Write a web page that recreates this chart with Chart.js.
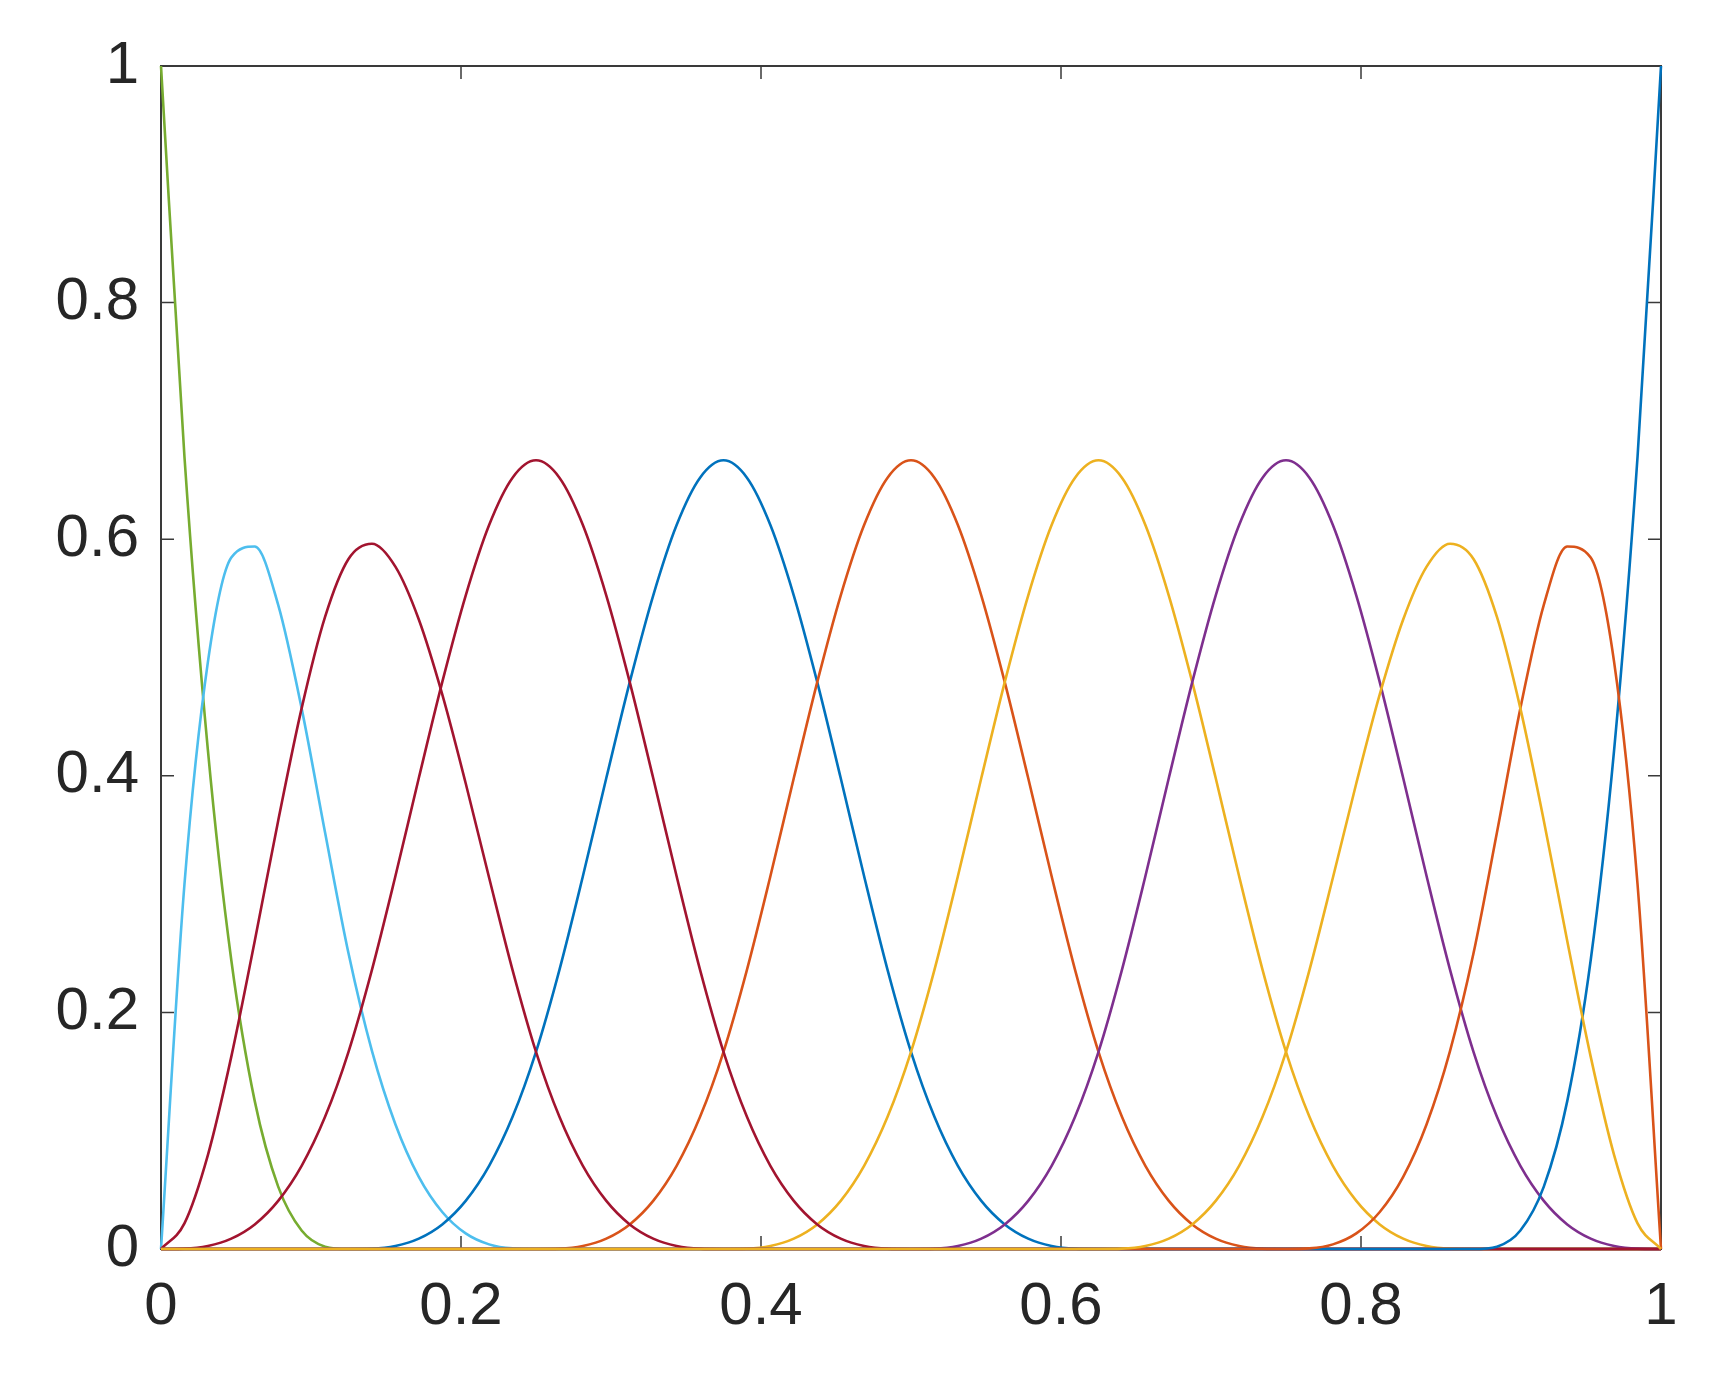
<!DOCTYPE html>
<html lang="en">
<head>
    <meta charset="UTF-8">
    <title>B-spline basis</title>
    <script src="https://cdn.jsdelivr.net/npm/chart.js"></script>
    <style>
        body { margin: 0; background: #fff; }
        #wrap { width: 1720px; height: 1375px; }
    </style>
</head>
<body>
    <div id="wrap"><canvas id="chart"></canvas></div>
    <script>
        // sample positions (x) shared by every curve
        const xValues = [
            0, 0.015625, 0.03125, 0.046875, 0.0625, 0.078125, 0.09375, 0.109375,
            0.125, 0.140625, 0.15625, 0.171875, 0.1875, 0.203125, 0.21875, 0.234375,
            0.25, 0.265625, 0.28125, 0.296875, 0.3125, 0.328125, 0.34375, 0.359375,
            0.375, 0.390625, 0.40625, 0.421875, 0.4375, 0.453125, 0.46875, 0.484375,
            0.5, 0.515625, 0.53125, 0.546875, 0.5625, 0.578125, 0.59375, 0.609375,
            0.625, 0.640625, 0.65625, 0.671875, 0.6875, 0.703125, 0.71875, 0.734375,
            0.75, 0.765625, 0.78125, 0.796875, 0.8125, 0.828125, 0.84375, 0.859375,
            0.875, 0.890625, 0.90625, 0.921875, 0.9375, 0.953125, 0.96875, 0.984375,
            1];

        const tickValues = [0, 0.2, 0.4, 0.6, 0.8, 1];
        const tickLabels = ['0', '0.2', '0.4', '0.6', '0.8', '1'];

        // basis curves
        const n0 = [
            1, 0.6699, 0.4219, 0.2441, 0.125, 0.0527, 0.0156, 0.0020,
            0, 0, 0, 0, 0, 0, 0, 0,
            0, 0, 0, 0, 0, 0, 0, 0,
            0, 0, 0, 0, 0, 0, 0, 0,
            0, 0, 0, 0, 0, 0, 0, 0,
            0, 0, 0, 0, 0, 0, 0, 0,
            0, 0, 0, 0, 0, 0, 0, 0,
            0, 0, 0, 0, 0, 0, 0, 0,
            0];
        const n1 = [
            0, 0.3081, 0.4961, 0.5845, 0.5938, 0.5444, 0.4570, 0.3521,
            0.25, 0.1675, 0.1055, 0.0610, 0.0313, 0.0132, 0.0039, 0.0005,
            0, 0, 0, 0, 0, 0, 0, 0,
            0, 0, 0, 0, 0, 0, 0, 0,
            0, 0, 0, 0, 0, 0, 0, 0,
            0, 0, 0, 0, 0, 0, 0, 0,
            0, 0, 0, 0, 0, 0, 0, 0,
            0, 0, 0, 0, 0, 0, 0, 0,
            0];
        const n2 = [
            0, 0.0217, 0.0794, 0.1626, 0.2604, 0.3621, 0.4570, 0.5343,
            0.5833, 0.5962, 0.5768, 0.5321, 0.4688, 0.3937, 0.3138, 0.2358,
            0.1667, 0.1117, 0.0703, 0.0407, 0.0208, 0.0088, 0.0026, 0.0003,
            0, 0, 0, 0, 0, 0, 0, 0,
            0, 0, 0, 0, 0, 0, 0, 0,
            0, 0, 0, 0, 0, 0, 0, 0,
            0, 0, 0, 0, 0, 0, 0, 0,
            0, 0, 0, 0, 0, 0, 0, 0,
            0];
        const n3 = [
            0, 0.0003, 0.0026, 0.0088, 0.0208, 0.0407, 0.0703, 0.1117,
            0.1667, 0.2360, 0.3151, 0.3981, 0.4792, 0.5524, 0.6120, 0.6520,
            0.6667, 0.6520, 0.6120, 0.5524, 0.4792, 0.3981, 0.3151, 0.2360,
            0.1667, 0.1117, 0.0703, 0.0407, 0.0208, 0.0088, 0.0026, 0.0003,
            0, 0, 0, 0, 0, 0, 0, 0,
            0, 0, 0, 0, 0, 0, 0, 0,
            0, 0, 0, 0, 0, 0, 0, 0,
            0, 0, 0, 0, 0, 0, 0, 0,
            0];
        const n4 = [
            0, 0, 0, 0, 0, 0, 0, 0,
            0, 0.0003, 0.0026, 0.0088, 0.0208, 0.0407, 0.0703, 0.1117,
            0.1667, 0.2360, 0.3151, 0.3981, 0.4792, 0.5524, 0.6120, 0.6520,
            0.6667, 0.6520, 0.6120, 0.5524, 0.4792, 0.3981, 0.3151, 0.2360,
            0.1667, 0.1117, 0.0703, 0.0407, 0.0208, 0.0088, 0.0026, 0.0003,
            0, 0, 0, 0, 0, 0, 0, 0,
            0, 0, 0, 0, 0, 0, 0, 0,
            0, 0, 0, 0, 0, 0, 0, 0,
            0];
        const n5 = [
            0, 0, 0, 0, 0, 0, 0, 0,
            0, 0, 0, 0, 0, 0, 0, 0,
            0, 0.0003, 0.0026, 0.0088, 0.0208, 0.0407, 0.0703, 0.1117,
            0.1667, 0.2360, 0.3151, 0.3981, 0.4792, 0.5524, 0.6120, 0.6520,
            0.6667, 0.6520, 0.6120, 0.5524, 0.4792, 0.3981, 0.3151, 0.2360,
            0.1667, 0.1117, 0.0703, 0.0407, 0.0208, 0.0088, 0.0026, 0.0003,
            0, 0, 0, 0, 0, 0, 0, 0,
            0, 0, 0, 0, 0, 0, 0, 0,
            0];
        const n6 = [
            0, 0, 0, 0, 0, 0, 0, 0,
            0, 0, 0, 0, 0, 0, 0, 0,
            0, 0, 0, 0, 0, 0, 0, 0,
            0, 0.0003, 0.0026, 0.0088, 0.0208, 0.0407, 0.0703, 0.1117,
            0.1667, 0.2360, 0.3151, 0.3981, 0.4792, 0.5524, 0.6120, 0.6520,
            0.6667, 0.6520, 0.6120, 0.5524, 0.4792, 0.3981, 0.3151, 0.2360,
            0.1667, 0.1117, 0.0703, 0.0407, 0.0208, 0.0088, 0.0026, 0.0003,
            0, 0, 0, 0, 0, 0, 0, 0,
            0];
        const n7 = [
            0, 0, 0, 0, 0, 0, 0, 0,
            0, 0, 0, 0, 0, 0, 0, 0,
            0, 0, 0, 0, 0, 0, 0, 0,
            0, 0, 0, 0, 0, 0, 0, 0,
            0, 0.0003, 0.0026, 0.0088, 0.0208, 0.0407, 0.0703, 0.1117,
            0.1667, 0.2360, 0.3151, 0.3981, 0.4792, 0.5524, 0.6120, 0.6520,
            0.6667, 0.6520, 0.6120, 0.5524, 0.4792, 0.3981, 0.3151, 0.2360,
            0.1667, 0.1117, 0.0703, 0.0407, 0.0208, 0.0088, 0.0026, 0.0003,
            0];
        const n8 = [
            0, 0, 0, 0, 0, 0, 0, 0,
            0, 0, 0, 0, 0, 0, 0, 0,
            0, 0, 0, 0, 0, 0, 0, 0,
            0, 0, 0, 0, 0, 0, 0, 0,
            0, 0, 0, 0, 0, 0, 0, 0,
            0, 0.0003, 0.0026, 0.0088, 0.0208, 0.0407, 0.0703, 0.1117,
            0.1667, 0.2358, 0.3138, 0.3937, 0.4688, 0.5321, 0.5768, 0.5962,
            0.5833, 0.5343, 0.4570, 0.3621, 0.2604, 0.1626, 0.0794, 0.0217,
            0];
        const n9 = [
            0, 0, 0, 0, 0, 0, 0, 0,
            0, 0, 0, 0, 0, 0, 0, 0,
            0, 0, 0, 0, 0, 0, 0, 0,
            0, 0, 0, 0, 0, 0, 0, 0,
            0, 0, 0, 0, 0, 0, 0, 0,
            0, 0, 0, 0, 0, 0, 0, 0,
            0, 0.0005, 0.0039, 0.0132, 0.0313, 0.0610, 0.1055, 0.1675,
            0.25, 0.3521, 0.4570, 0.5444, 0.5938, 0.5845, 0.4961, 0.3081,
            0];
        const n10 = [
            0, 0, 0, 0, 0, 0, 0, 0,
            0, 0, 0, 0, 0, 0, 0, 0,
            0, 0, 0, 0, 0, 0, 0, 0,
            0, 0, 0, 0, 0, 0, 0, 0,
            0, 0, 0, 0, 0, 0, 0, 0,
            0, 0, 0, 0, 0, 0, 0, 0,
            0, 0, 0, 0, 0, 0, 0, 0,
            0, 0.0020, 0.0156, 0.0527, 0.125, 0.2441, 0.4219, 0.6699,
            1];

        // first in list ends up drawn on top
        const series = [
            { values: n8, color: '#EDB120' },
            { values: n9, color: '#D95319' },
            { values: n10, color: '#0072BD' },
            { values: n3, color: '#A2142F' },
            { values: n2, color: '#A2142F' },
            { values: n7, color: '#7E2F8E' },
            { values: n6, color: '#EDB120' },
            { values: n5, color: '#D95319' },
            { values: n4, color: '#0072BD' },
            { values: n1, color: '#4DBEEE' },
            { values: n0, color: '#77AC30' }
        ];

        const axisColor = '#3a3a3a';
        const tickLen = 13;

        // box round the plot with inward ticks on all four sides
        const boxPlugin = {
            id: 'box',
            beforeDatasetsDraw(chart) {
                const { ctx, chartArea: a, scales } = chart;
                ctx.save();
                ctx.strokeStyle = axisColor;
                ctx.lineWidth = 2;
                ctx.strokeRect(a.left, a.top, a.right - a.left, a.bottom - a.top);
                ctx.lineWidth = 1.5;
                ctx.beginPath();
                tickValues.forEach(v => {
                    const px = scales.x.getPixelForValue(v);
                    ctx.moveTo(px, a.bottom); ctx.lineTo(px, a.bottom - tickLen);
                    ctx.moveTo(px, a.top); ctx.lineTo(px, a.top + tickLen);
                    const py = scales.y.getPixelForValue(v);
                    ctx.moveTo(a.left, py); ctx.lineTo(a.left + tickLen, py);
                    ctx.moveTo(a.right, py); ctx.lineTo(a.right - tickLen, py);
                });
                ctx.stroke();
                ctx.restore();
            }
        };

        const tickFont = { family: '"Liberation Sans", Arial, sans-serif', size: 60 };

        new Chart(document.getElementById('chart'), {
            type: 'line',
            data: {
                datasets: series.map(s => ({
                    data: s.values.map((v, i) => ({ x: xValues[i], y: v })),
                    borderColor: s.color,
                    borderWidth: 2.6,
                    pointRadius: 0,
                    cubicInterpolationMode: 'monotone',
                    fill: false,
                    clip: false
                }))
            },
            options: {
                responsive: true,
                maintainAspectRatio: false,
                animation: false,
                layout: { padding: { top: 66, right: 59, left: 0, bottom: 0 } },
                plugins: { legend: { display: false }, tooltip: { enabled: false } },
                scales: {
                    x: {
                        type: 'linear',
                        min: 0,
                        max: 1,
                        grid: { display: false, drawTicks: false },
                        border: { display: false },
                        afterBuildTicks: scale => { scale.ticks = tickValues.map(v => ({ value: v })); },
                        afterFit: scale => { scale.height = 126; },
                        ticks: {
                            font: tickFont,
                            color: '#262626',
                            padding: 22,
                            maxRotation: 0,
                            callback: (v, i) => tickLabels[i]
                        }
                    },
                    y: {
                        type: 'linear',
                        min: 0,
                        max: 1,
                        grid: { display: false, drawTicks: false },
                        border: { display: false },
                        afterBuildTicks: scale => { scale.ticks = tickValues.map(v => ({ value: v })); },
                        afterFit: scale => { scale.width = 161; },
                        ticks: {
                            font: tickFont,
                            color: '#262626',
                            padding: 22,
                            callback: (v, i) => tickLabels[i]
                        }
                    }
                }
            },
            plugins: [boxPlugin]
        });
    </script>
</body>
</html>
